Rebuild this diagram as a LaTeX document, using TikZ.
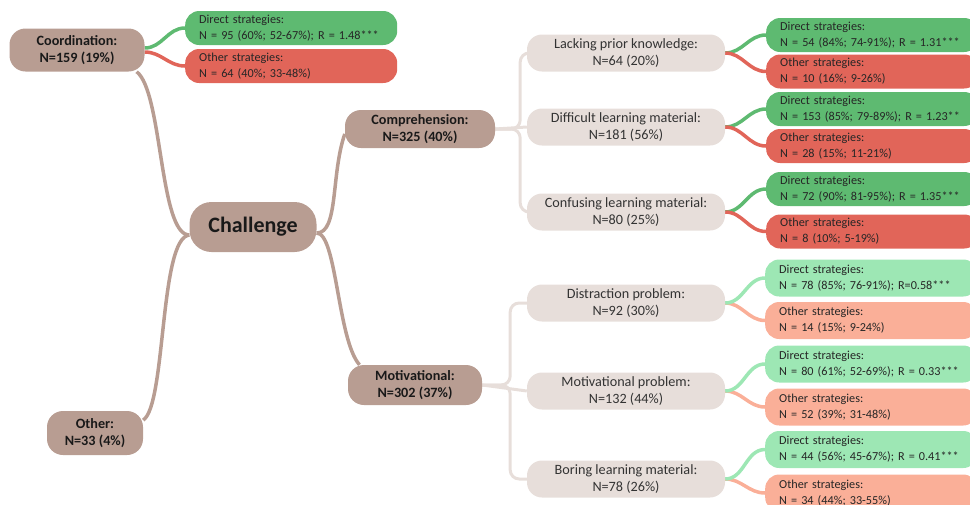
\documentclass[tikz,border=0pt]{standalone}
\usepackage{fontspec}
\setmainfont{Carlito}
\usetikzlibrary{backgrounds}
\definecolor{trunkbrown}{RGB}{184,157,146}
\definecolor{branchgrey}{RGB}{231,222,218}
\definecolor{directgreen}{RGB}{94,186,113}
\definecolor{otherred}{RGB}{225,101,89}
\definecolor{directmint}{RGB}{157,231,180}
\definecolor{othersalmon}{RGB}{250,175,152}

\begin{document}
\begin{tikzpicture}[x=1pt,y=1pt,
  main/.style={rectangle,rounded corners=16pt,fill=trunkbrown,text=black!90,
    align=center,font=\bfseries\fontsize{14.2}{17}\selectfont,minimum height=40pt},
  topic/.style={rectangle,rounded corners=15pt,fill=branchgrey,text=black!80,
    align=center,font=\fontsize{14.2}{17}\selectfont,minimum width=198pt,minimum height=37pt},
  leaf/.style={rectangle,rounded corners=14pt,anchor=west,text=black!85,align=left,
    text width=184pt,inner xsep=14pt,font=\fontsize{12.2}{16}\selectfont,minimum height=34pt},
  trunk/.style={draw=trunkbrown,line width=3.5pt},
  twig/.style={draw=branchgrey,line width=3pt,rounded corners=9pt},
  link/.style={line width=3.5pt}]
  \useasboundingbox (0,0) rectangle (970,-504);

  \node[main,minimum width=135pt,minimum height=43pt] (coord) at (77,-50) {Coordination:\\N=159 (19\%)};
  \node[main,minimum width=127pt,minimum height=50pt,rounded corners=22pt,
        font=\bfseries\fontsize{22}{26}\selectfont] (chal) at (253,-227) {Challenge};
  \node[main,minimum width=150pt,minimum height=38pt] (comp) at (420,-129) {Comprehension:\\N=325 (40\%)};
  \node[main,minimum width=134pt] (motiv) at (415,-385) {Motivational:\\N=302 (37\%)};
  \node[main,minimum width=96pt,minimum height=44pt] (other) at (95,-433) {Other:\\N=33 (4\%)};

  \node[topic] (lack) at (626,-53) {Lacking prior knowledge:\\N=64 (20\%)};
  \node[topic] (diff) at (626,-127) {Difficult learning material:\\N=181 (56\%)};
  \node[topic] (conf) at (626,-212) {Confusing learning material:\\N=80 (25\%)};
  \node[topic] (distr) at (626,-303) {Distraction problem:\\N=92 (30\%)};
  \node[topic] (motprob) at (626,-391) {Motivational problem:\\N=132 (44\%)};
  \node[topic] (boring) at (626,-479) {Boring learning material:\\N=78 (26\%)};

  \node[leaf,fill=directgreen] (coordD) at (185,-28) {Direct strategies:\\N = 95 (60\%; 52-67\%); R = 1.48***};
  \node[leaf,fill=otherred] (coordO) at (185,-66) {Other strategies:\\N = 64 (40\%; 33-48\%)};
  \node[leaf,fill=directgreen] (lackD) at (766,-35) {Direct strategies:\\N = 54 (84\%; 74-91\%); R = 1.31***};
  \node[leaf,fill=otherred] (lackO) at (766,-71.5) {Other strategies:\\N = 10 (16\%; 9-26\%)};
  \node[leaf,fill=directgreen] (diffD) at (766,-109) {Direct strategies:\\N = 153 (85\%; 79-89\%); R = 1.23**};
  \node[leaf,fill=otherred] (diffO) at (766,-146) {Other strategies:\\N = 28 (15\%; 11-21\%)};
  \node[leaf,fill=directgreen] (confD) at (766,-189) {Direct strategies:\\N = 72 (90\%; 81-95\%); R = 1.35***};
  \node[leaf,fill=otherred] (confO) at (766,-231.5) {Other strategies:\\N = 8 (10\%; 5-19\%)};
  \node[leaf,fill=directmint,minimum height=37pt] (distrD) at (765,-278) {Direct strategies:\\N = 78 (85\%; 76-91\%); R=0.58***};
  \node[leaf,fill=othersalmon,minimum height=37pt] (distrO) at (765,-320.5) {Other strategies:\\N = 14 (15\%; 9-24\%)};
  \node[leaf,fill=directmint,minimum height=37pt] (motprobD) at (765,-364) {Direct strategies:\\N = 80 (61\%; 52-69\%); R = 0.33***};
  \node[leaf,fill=othersalmon,minimum height=37pt] (motprobO) at (765,-407) {Other strategies:\\N = 52 (39\%; 31-48\%)};
  \node[leaf,fill=directmint,minimum height=37pt] (boringD) at (765,-449.5) {Direct strategies:\\N = 44 (56\%; 45-67\%); R = 0.41***};
  \node[leaf,fill=othersalmon,minimum height=37pt] (boringO) at (765,-493) {Other strategies:\\N = 34 (44\%; 33-55\%)};

  \begin{scope}[on background layer]
    \draw[trunk] (coord.-20) .. controls +(26,-20) and +(-30,0) .. ([yshift=-8pt]chal.west);
    \draw[trunk] ([yshift=-8pt]chal.west) .. controls +(-30,-3) and +(23,15) .. (other.15);
    \draw[trunk] ([yshift=-6pt]chal.east) .. controls +(22,0) and +(-14,-40) .. ([yshift=-5pt]comp.west);
    \draw[trunk] ([yshift=-6pt]chal.east) .. controls +(20,0) and +(-22,25) .. (motiv.160);

    \draw[twig] (comp.east) -- ++(25,0) |- (lack.west);
    \draw[twig] (comp.east) -- (diff.west);
    \draw[twig] (comp.east) -- ++(25,0) |- (conf.west);
    \draw[twig] (motiv.east) -- ++(28,0) |- (distr.west);
    \draw[twig] (motiv.east) -- (motprob.west);
    \draw[twig] (motiv.east) -- ++(28,0) |- (boring.west);

    \draw[link,directgreen] ([yshift=2pt]coord.east) to[out=0,in=180] (coordD.west);
    \draw[link,otherred] ([yshift=-2pt]coord.east) to[out=0,in=180] (coordO.west);
    \draw[link,directgreen] (lack.east) to[out=0,in=180] (lackD.west);
    \draw[link,otherred] (lack.east) to[out=0,in=180] (lackO.west);
    \draw[link,directgreen] (diff.east) to[out=0,in=180] (diffD.west);
    \draw[link,otherred] (diff.east) to[out=0,in=180] (diffO.west);
    \draw[link,directgreen] (conf.east) to[out=0,in=180] (confD.west);
    \draw[link,otherred] (conf.east) to[out=0,in=180] (confO.west);
    \draw[link,othersalmon] (distr.east) to[out=0,in=180] (distrO.west);
    \draw[link,directmint] (distr.east) to[out=0,in=180] (distrD.west);
    \draw[link,othersalmon] (motprob.east) to[out=0,in=180] (motprobO.west);
    \draw[link,directmint] (motprob.east) to[out=0,in=180] (motprobD.west);
    \draw[link,othersalmon] (boring.east) to[out=0,in=180] (boringO.west);
    \draw[link,directmint] (boring.east) to[out=0,in=180] (boringD.west);
  \end{scope}
\end{tikzpicture}
\end{document}
